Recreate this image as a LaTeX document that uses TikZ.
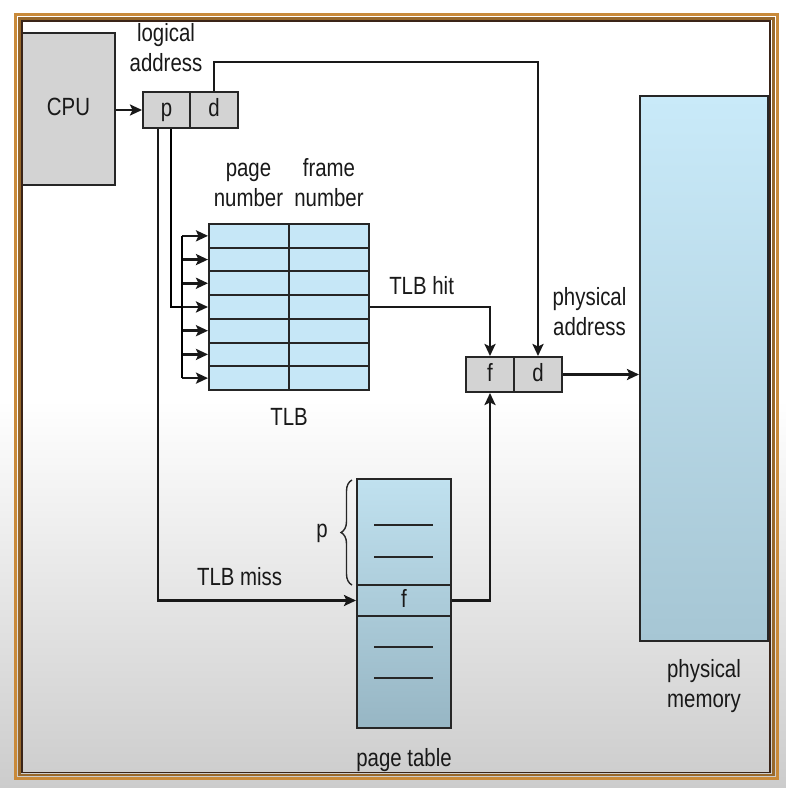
\documentclass[tikz,border=0pt]{standalone}
\usepackage{fontspec}
\setmainfont{Liberation Sans}[FakeStretch=0.82]
\usetikzlibrary{arrows.meta, calc, decorations.pathreplacing}

\definecolor{boxgray}{HTML}{D3D3D3}
\definecolor{tlbblue}{HTML}{C6E7F7}
\definecolor{memtop}{HTML}{C9EAF9}
\definecolor{membot}{HTML}{A6C6D4}
\definecolor{pttop}{HTML}{C0E1EF}
\definecolor{ptbot}{HTML}{97B6C4}
\definecolor{frameorange}{HTML}{C98A3A}
\definecolor{framebrown}{HTML}{3A2418}
\colorlet{ptmidA}{ptbot!43!pttop}
\colorlet{ptmidB}{ptbot!55!pttop}

\tikzset{
	lbl/.style={font=\fontsize{25}{30}\selectfont, text=black!90, inner sep=0pt, align=center},
	cell/.style={draw=black!85, line width=2bp, fill=boxgray, minimum width=48bp, minimum height=36bp,
		inner sep=0pt, text height=18bp, text depth=5bp, text=black!90, font=\fontsize{25}{30}\selectfont},
	tlbcell/.style={cell, fill=tlbblue, minimum width=80bp, minimum height=23.71bp},
	ptcell/.style={cell, minimum width=94bp},
	arr/.style={-{Stealth[length=12bp,width=11bp,inset=2.5bp]}, line width=2.6bp, black!90}
}

\begin{document}
\begin{tikzpicture}[x=1bp, y=-1bp, line width=2.6bp]
		\useasboundingbox (0,0) rectangle (786,788);
		\fill[white] (0,0) rectangle (786,788);
		\shade[top color=white, bottom color=black!20] (0,400) rectangle (786,788);

		% cpu and logical address
		\node[cell, minimum width=93bp, minimum height=152bp] (cpu) at (68.5,109) {CPU};
		\node[cell, minimum width=47bp] (lp) at (166.5,110) {p};
		\node[cell] (ld) at (214,110) {d};
		\node[lbl] (logical) at (166,48) {logical\\address};
		\draw[arr] (cpu.east |- lp.west) -- (lp.west);

		% TLB
		\foreach \i in {1,...,7} {
			\node[tlbcell] (pg\i) at (249,{224+23.71*(\i-0.5)}) {};
			\node[tlbcell] (fr\i) at (329,{224+23.71*(\i-0.5)}) {};
			\coordinate (bus\i) at ($(pg\i.west)+(-26,0)$);
			\draw[arr] (bus\i) -- (pg\i.west);
		}
		\draw (bus1) -- (bus7);
		\node[lbl] (pgnum) at (248.5,185) {page\\number};
		\node[lbl] (frnum) at (329,183) {frame\\number};
		\node[lbl, anchor=base] (tlb) at (289,425) {TLB};

		% physical address
		\node[cell, minimum height=35bp] (pf) at (490,374.5) {f};
		\node[cell, minimum height=35bp] (pd) at (538,374.5) {d};
		\node[lbl] (phys) at (589.5,312) {physical\\address};

		% page table
		\node[ptcell, minimum height=106bp, top color=pttop, bottom color=ptmidA] (pttop) at (404,532) {};
		\node[ptcell, minimum height=31bp, top color=ptmidA, bottom color=ptmidB] (ptf) at (404,600.5) {f};
		\node[ptcell, minimum height=112bp, top color=ptmidB, bottom color=ptbot] (ptbot) at (404,672) {};
		\foreach \y in {525,557,647,678}
			\draw[line width=1.8bp, black!85] (374,\y) -- (433,\y);
		\draw[decorate, decoration={brace, amplitude=11bp}, line width=1.4bp, black!85] (352,585) -- (352,480);
		\node[lbl, anchor=base] (pidx) at (322,537) {p};
		\node[lbl, anchor=base] (ptlbl) at (404,766) {page table};

		% physical memory
		\node[draw=black!85, line width=2bp, top color=memtop, bottom color=membot,
			minimum width=128bp, minimum height=545bp] (mem) at (704,368.5) {};
		\node[lbl] (memlbl) at (704,686) {physical\\memory};

		% connectors
		\coordinate (pa) at ($(lp.south)+(-8.5,0)$);
		\coordinate (pb) at ($(lp.south)+(4.5,0)$);
		\coordinate (dturn) at (538,62);
		\draw (pb) |- (bus4);
		\draw[arr] (pa) |- (ptf.west) node[pos=0.706, anchor=base, yshift=15bp, lbl] (miss) {TLB miss};
		\draw[arr] (fr4.east) -| (pf.north) node[pos=0.215, anchor=base, yshift=12bp, lbl] (hit) {TLB hit};
		\draw[arr] (ld.north) |- (dturn) -- (pd.north);
		\draw[arr] (ptf.east) -| (pf.south);
		\draw[arr] (pd.east) -- (mem.west |- pd.east);

		% frame
		\draw[line width=3bp, frameorange] (15.5,14.5) rectangle (777.5,778.5);
		\draw[line width=2.5bp, frameorange!75!black] (19.5,18.5) rectangle (773.5,775);
		\draw[line width=1.6bp, framebrown] (22,21) rectangle (770,772.5);
	\end{tikzpicture}
\end{document}
